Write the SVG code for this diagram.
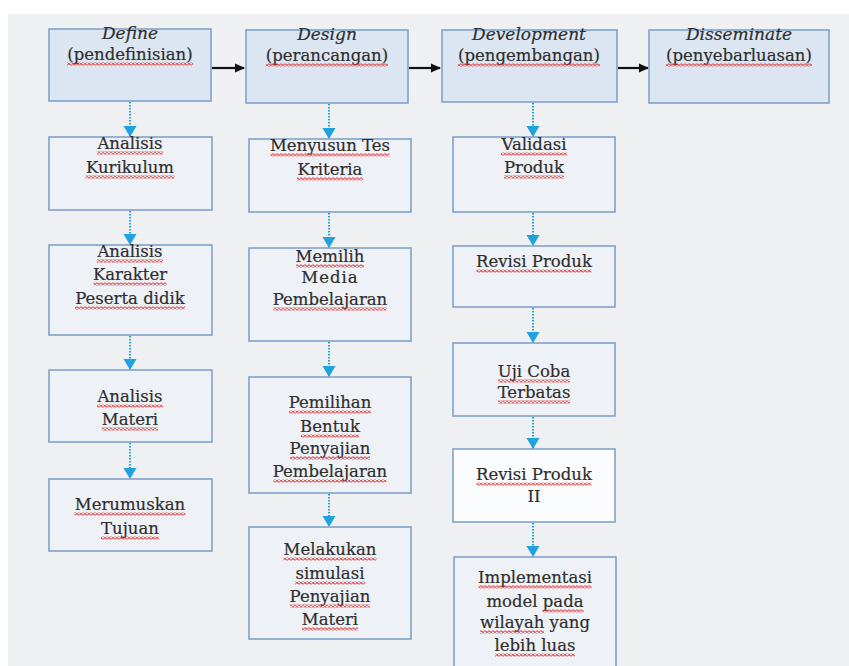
<svg xmlns="http://www.w3.org/2000/svg" width="849" height="666" viewBox="0 0 849 666">
<defs>
<style>
.hdr{fill:#dce6f2;stroke:#7fa3cb;stroke-width:1.6}
.box{fill:#eef1f6;stroke:#7fa3cb;stroke-width:1.6}
.wbox{fill:#fbfcfe;stroke:#7fa3cb;stroke-width:1.6}
text{font-family:"DejaVu Serif","Liberation Serif",serif;font-size:16.5px;fill:#2e2e2e;text-anchor:middle;stroke:#2e2e2e;stroke-width:0.2}
.it{font-style:italic;font-size:17px}
.dot{stroke:#1fa2dd;stroke-width:2;stroke-dasharray:1.5 1.5;fill:none}
.blk{stroke:#111;stroke-width:2.2;fill:none}
.wv{fill:url(#wave)}
</style>
<pattern id="wave" x="0" y="0" width="4" height="3" patternUnits="userSpaceOnUse">
<path d="M0,1.5 Q1,-0.2 2,1.5 T4,1.5" fill="none" stroke="#e03434" stroke-width="1.2"/>
</pattern>
<marker id="bh" markerWidth="10" markerHeight="10" refX="9" refY="5" orient="auto" markerUnits="userSpaceOnUse">
<path d="M0,0.5 L10,5 L0,9.5 Z" fill="#111"/>
</marker>
<marker id="ch" markerWidth="12" markerHeight="14" refX="11" refY="7" orient="auto" markerUnits="userSpaceOnUse">
<path d="M0,0.5 L11,7 L0,13.5 Z" fill="#1fa2dd"/>
</marker>
</defs>
<rect x="0" y="0" width="849" height="666" fill="#ffffff"/>
<rect x="8" y="14" width="841" height="652" fill="#eff0f2"/>

<g id="connectors">
<line class="blk" x1="212" y1="68" x2="244" y2="68" marker-end="url(#bh)"/>
<line class="blk" x1="409" y1="68" x2="440" y2="68" marker-end="url(#bh)"/>
<line class="blk" x1="618" y1="68" x2="648" y2="68" marker-end="url(#bh)"/>
<line class="dot" x1="130" y1="102" x2="130" y2="137" marker-end="url(#ch)"/>
<line class="dot" x1="130" y1="211" x2="130" y2="245" marker-end="url(#ch)"/>
<line class="dot" x1="130" y1="336" x2="130" y2="370" marker-end="url(#ch)"/>
<line class="dot" x1="130" y1="443" x2="130" y2="479" marker-end="url(#ch)"/>
<line class="dot" x1="329" y1="104" x2="329" y2="139" marker-end="url(#ch)"/>
<line class="dot" x1="329" y1="213" x2="329" y2="248" marker-end="url(#ch)"/>
<line class="dot" x1="329" y1="342" x2="329" y2="377" marker-end="url(#ch)"/>
<line class="dot" x1="329" y1="494" x2="329" y2="527" marker-end="url(#ch)"/>
<line class="dot" x1="533" y1="103" x2="533" y2="137" marker-end="url(#ch)"/>
<line class="dot" x1="533" y1="213" x2="533" y2="246" marker-end="url(#ch)"/>
<line class="dot" x1="533" y1="308" x2="533" y2="343" marker-end="url(#ch)"/>
<line class="dot" x1="533" y1="417" x2="533" y2="449" marker-end="url(#ch)"/>
<line class="dot" x1="533" y1="523" x2="533" y2="557" marker-end="url(#ch)"/>
</g>

<g id="define">
<rect class="hdr" x="49" y="29" width="162" height="72"/>
<text x="130" y="39" class="it">Define</text>
<text x="130" y="60">(pendefinisian)</text>
<rect class="wv" x="67" y="62.5" width="126" height="3"/>
</g>
<g id="design">
<rect class="hdr" x="246" y="30" width="162" height="73"/>
<text x="327" y="40" class="it">Design</text>
<text x="327" y="61">(perancangan)</text>
<rect class="wv" x="266" y="63.5" width="122" height="3"/>
</g>
<g id="development">
<rect class="hdr" x="442" y="30" width="175" height="72"/>
<text x="529" y="40" class="it">Development</text>
<text x="529" y="61">(pengembangan)</text>
<rect class="wv" x="458" y="63.5" width="142" height="3"/>
</g>
<g id="disseminate">
<rect class="hdr" x="649" y="30" width="180" height="73"/>
<text x="739" y="40" class="it">Disseminate</text>
<text x="739" y="61">(penyebarluasan)</text>
<rect class="wv" x="666" y="63.5" width="146" height="3"/>
</g>

<g id="analisis-kurikulum">
<rect class="box" x="49" y="137" width="163" height="73"/>
<text x="130" y="149">Analisis</text>
<text x="130" y="173">Kurikulum</text>
<rect class="wv" x="97" y="151.5" width="66" height="3"/>
<rect class="wv" x="85.5" y="175.5" width="89" height="3"/>
</g>
<g id="analisis-karakter">
<rect class="box" x="49" y="245" width="163" height="90"/>
<text x="130" y="257">Analisis</text>
<text x="130" y="280">Karakter</text>
<text x="130" y="304">Peserta didik</text>
<rect class="wv" x="97" y="259.5" width="66" height="3"/>
<rect class="wv" x="93.5" y="282.5" width="73" height="3"/>
<rect class="wv" x="75" y="306.5" width="110" height="3"/>
</g>
<g id="analisis-materi">
<rect class="box" x="49" y="370" width="163" height="72"/>
<text x="130" y="402">Analisis</text>
<text x="130" y="425">Materi</text>
<rect class="wv" x="97" y="404.5" width="66" height="3"/>
<rect class="wv" x="102" y="427.5" width="56" height="3"/>
</g>
<g id="merumuskan-tujuan">
<rect class="box" x="49" y="479" width="163" height="72"/>
<text x="130" y="510">Merumuskan</text>
<text x="130" y="534">Tujuan</text>
<rect class="wv" x="74.5" y="512.5" width="111" height="3"/>
<rect class="wv" x="101" y="536.5" width="58" height="3"/>
</g>

<g id="menyusun-tes">
<rect class="box" x="249" y="139" width="162" height="73"/>
<text x="330" y="151">Menyusun Tes</text>
<text x="330" y="175">Kriteria</text>
<rect class="wv" x="270.5" y="153.5" width="119" height="3"/>
<rect class="wv" x="297" y="177.5" width="66" height="3"/>
</g>
<g id="memilih-media">
<rect class="box" x="249" y="248" width="162" height="93"/>
<text x="330" y="262">Memilih</text>
<text x="330" y="283" letter-spacing="1">Media</text>
<text x="330" y="305">Pembelajaran</text>
<rect class="wv" x="296" y="264.5" width="68" height="3"/>
<rect class="wv" x="273.5" y="307.5" width="113" height="3"/>
</g>
<g id="pemilihan-bentuk">
<rect class="box" x="249" y="377" width="162" height="116"/>
<text x="330" y="408">Pemilihan</text>
<text x="330" y="432">Bentuk</text>
<text x="330" y="454">Penyajian</text>
<text x="330" y="477">Pembelajaran</text>
<rect class="wv" x="289" y="410.5" width="82" height="3"/>
<rect class="wv" x="301" y="434.5" width="58" height="3"/>
<rect class="wv" x="290" y="456.5" width="80" height="3"/>
<rect class="wv" x="273.5" y="479.5" width="113" height="3"/>
</g>
<g id="melakukan-simulasi">
<rect class="box" x="249" y="527" width="162" height="112"/>
<text x="330" y="555">Melakukan</text>
<text x="330" y="579">simulasi</text>
<text x="330" y="602">Penyajian</text>
<text x="330" y="625">Materi</text>
<rect class="wv" x="283.5" y="557.5" width="93" height="3"/>
<rect class="wv" x="295" y="581.5" width="70" height="3"/>
<rect class="wv" x="290" y="604.5" width="80" height="3"/>
<rect class="wv" x="302" y="627.5" width="56" height="3"/>
</g>

<g id="validasi-produk">
<rect class="box" x="453" y="137" width="162" height="75"/>
<text x="534" y="150">Validasi</text>
<text x="534" y="173">Produk</text>
<rect class="wv" x="501" y="152.5" width="66" height="3"/>
<rect class="wv" x="504" y="175.5" width="60" height="3"/>
</g>
<g id="revisi-produk">
<rect class="box" x="453" y="246" width="162" height="61"/>
<text x="534" y="267">Revisi Produk</text>
<rect class="wv" x="476.5" y="269.5" width="115" height="3"/>
</g>
<g id="uji-coba">
<rect class="box" x="453" y="343" width="162" height="73"/>
<text x="534" y="377">Uji Coba</text>
<text x="534" y="398">Terbatas</text>
<rect class="wv" x="498" y="379.5" width="72" height="3"/>
<rect class="wv" x="498" y="400.5" width="72" height="3"/>
</g>
<g id="revisi-produk-2">
<rect class="wbox" x="453" y="449" width="162" height="73"/>
<text x="534" y="480">Revisi Produk</text>
<text x="534" y="502">II</text>
<rect class="wv" x="476.5" y="482.5" width="115" height="3"/>
</g>
<g id="implementasi">
<rect class="box" x="454" y="557" width="162" height="120"/>
<text x="535" y="583">Implementasi</text>
<text x="535" y="607">model pada</text>
<text x="535" y="628">wilayah yang</text>
<text x="535" y="651">lebih luas</text>
<rect class="wv" x="478.5" y="585.5" width="113" height="3"/>
<rect class="wv" x="542.5" y="609.5" width="41" height="3"/>
<rect class="wv" x="480" y="630.5" width="64" height="3"/>
<rect class="wv" x="495" y="653.5" width="80" height="3"/>
</g>
</svg>
